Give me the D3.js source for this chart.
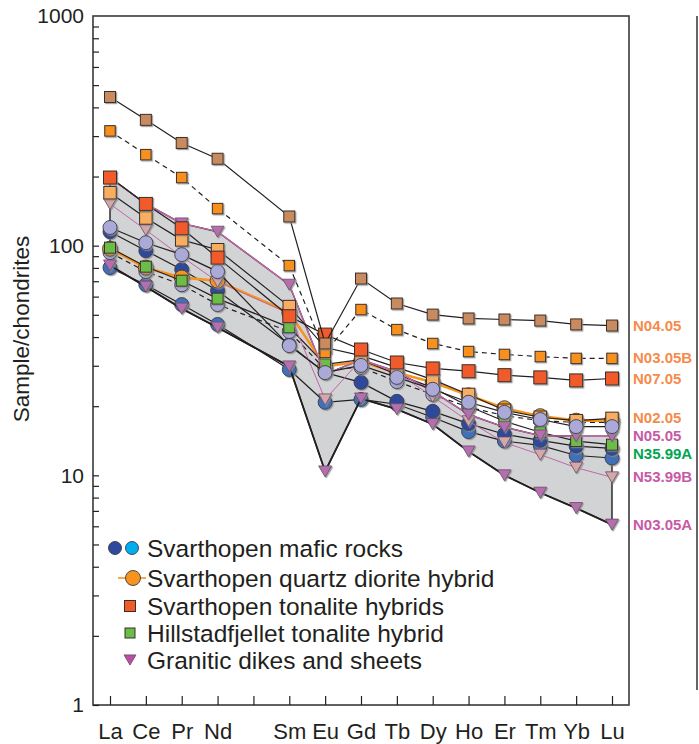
<!DOCTYPE html>
<html>
<head>
<meta charset="utf-8">
<script src="https://cdn.jsdelivr.net/npm/d3@7/dist/d3.min.js"></script>
<style>
  body { margin: 0; background: #fff; }
  text { font-family: "Liberation Sans", Arial, Helvetica, sans-serif; fill: #231f20; }
</style>
</head>
<body>
<svg class="chart-ree" width="699" height="744"></svg>
<script>
// REE columns on the x axis (Pm keeps its slot but has no analyses)
const elements = ["La", "Ce", "Pr", "Nd", "Pm", "Sm", "Eu", "Gd", "Tb", "Dy", "Ho", "Er", "Tm", "Yb", "Lu"]
const ree = ["La", "Ce", "Pr", "Nd", "Sm", "Eu", "Gd", "Tb", "Dy", "Ho", "Er", "Tm", "Yb", "Lu"]
const yTicks = [1, 10, 100, 1000]

// chondrite-normalised values, one per element in `ree`
const mafic1 = [120, 103, 91.4, 77.1, 36.7, 28.0, 30.1, 26.7, 23.7, 20.8, 18.8, 17.5, 16.3, 16.3]
const mafic2 = [115, 95.1, 78.7, 63.7, 37.1, 28.0, 25.4, 21.0, 19.0, 16.8, 15.1, 14.2, 13.4, 13.1]
const mafic3 = [93.3, 77.1, 67.6, 55.4, 42.3, 28.9, 29.5, 25.6, 22.5, 19.8, 18.2, 17.3, 17.0, 17.0]
const mafic4 = [80.2, 67.6, 55.4, 45.4, 28.9, 20.8, 21.4, 20.4, 17.9, 15.5, 14.1, 13.5, 12.2, 11.9]
const quartzDiorite = [97, 80.2, 72.6, 70.4, 51.1, 29.8, 31.3, 28.0, 25.4, 22.3, 19.6, 18.1, 17.3, 17.3]
const N35_99A = [98, 81, 70.4, 58.8, 44.1, 30.4, 31.9, 27.5, 24.1, 20.0, 17.2, 15.4, 14.1, 13.6]
const N02_05 = [170, 132, 106, 96, 54.3, 36, 33.2, 29.5, 26.1, 22.5, 19.2, 17.9, 17.3, 17.7]
const N07_05 = [198, 152, 119, 88.7, 49.3, 41, 35.3, 31.0, 29.2, 28.4, 27.3, 26.7, 25.9, 26.4]
const N03_05B = [316, 249, 198, 145, 81.9, 34.3, 52.7, 43.1, 37.5, 34.6, 33.6, 32.9, 32.3, 32.3]
const N04_05 = [444, 353, 280, 239, 134, 37.5, 71.9, 56, 50.1, 48.2, 47.7, 47.2, 45.4, 44.9]
const N05_05 = [198, 152, 125, 115, 67.6, 27.5, 31.9, 28.3, 23.2, 18.4, 16.2, 14.9, 14.8, 14.8]
const N53_99B = [152, 117, 89.6, 69.7, 50.6, 21.4, 31.9, 28.0, 22.0, 17.2, 13.9, 12.3, 10.8, 9.8]
const N03_05A = [82, 66.3, 53.2, 44.0, 29.8, 10.4, 21.6, 19.4, 16.7, 12.7, 10.0, 8.4, 7.2, 6.1]

const legendLabels = [
    "Svarthopen mafic rocks",
    "Svarthopen quartz diorite hybrid",
    "Svarthopen tonalite hybrids",
    "Hillstadfjellet tonalite hybrid",
    "Granitic dikes and sheets"
]

const cOrangeLbl = "#f58b4c", cPinkLbl = "#c759a6", cGreenLbl = "#00a551"
const magenta = "#c266a8"

// draw order matters: later series sit on top
const series = [
    {data: mafic4, shape: "circle", fill: "#3f71b8", size: 7},
    {data: mafic2, shape: "circle", fill: "#2f4a9c", size: 7},
    {data: mafic3, shape: "circle", fill: "#aaa9d8", size: 7, dash: "5,4"},
    {data: N03_05A, shape: "tri", fill: "#b470ae", size: 13, name: "N03.05A", lbl: cPinkLbl, lw: 1.8},
    {data: quartzDiorite, shape: "circle", fill: "#f7941d", size: 7.5, stroke: "#f7941d", lw: 2.6},
    {data: N35_99A, shape: "square", fill: "#6abd45", size: 11, name: "N35.99A", lbl: cGreenLbl, nudge: 9},
    {data: N53_99B, shape: "tri", fill: "#d4a7a8", size: 13, name: "N53.99B", lbl: cPinkLbl, stroke: magenta, lw: 1},
    {data: N05_05, shape: "tri", fill: "#b470ae", size: 13, name: "N05.05", lbl: cPinkLbl, stroke: magenta, lw: 1.3, nudge: 0},
    {data: N02_05, shape: "square", fill: "#f9ad60", size: 12.5, name: "N02.05", lbl: cOrangeLbl},
    {data: mafic1, shape: "circle", fill: "#aaa9d8", size: 7},
    {data: N07_05, shape: "square", fill: "#f15a29", size: 13, name: "N07.05", lbl: cOrangeLbl},
    {data: N03_05B, shape: "square", fill: "#f7901e", size: 10.5, name: "N03.05B", lbl: cOrangeLbl, dash: "5,4"},
    {data: N04_05, shape: "square", fill: "#c88a5e", size: 11, name: "N04.05", lbl: cOrangeLbl}
]

const frame = {left: 93, right: 629, top: 16, bottom: 705}

const svg = d3.select(".chart-ree")

const defs = svg.append("defs")
defs.append("filter")
    .attr("id", "shade")
    .attr("x", "-30%").attr("y", "-30%").attr("width", "170%").attr("height", "170%")
    .append("feDropShadow")
    .attr("dx", 1.2).attr("dy", 1.2).attr("stdDeviation", 0.4)
    .attr("flood-color", "#8a8a8a").attr("flood-opacity", 0.8)

const x = d3.scalePoint().domain(elements).range([110, 612])
const y = d3.scaleLog().domain([1, 1000]).range([frame.bottom, frame.top])

// granitic field: envelope of the three dike samples
const granites = [N05_05, N53_99B, N03_05A]
const field = d3.area()
    .x((d, i) => x(ree[i]))
    .y0((d, i) => y(d3.min(granites, g => g[i])))
    .y1((d, i) => y(d3.max(granites, g => g[i])))

svg.append("path")
    .datum(ree)
    .attr("d", field)
    .attr("fill", "#d1d3d4")
    .attr("stroke", "#231f20")
    .attr("stroke-width", 1.4)
    .attr("stroke-linejoin", "round")

// frame and axes
svg.append("rect")
    .attr("x", frame.left).attr("y", frame.top)
    .attr("width", frame.right - frame.left).attr("height", frame.bottom - frame.top)
    .attr("fill", "none").attr("stroke", "#3a3a3a").attr("stroke-width", 1.6)

const minor = []
for (let p = 0; p < 3; p++) for (let m = 1; m < 10; m++) minor.push(m * Math.pow(10, p))

svg.append("g")
    .attr("transform", `translate(${frame.left},0)`)
    .call(d3.axisRight(y).tickValues(minor).tickSize(6).tickFormat(""))
    .call(g => g.select(".domain").remove())
    .selectAll("line").attr("stroke", "#231f20").attr("stroke-width", 1.2)

svg.append("g")
    .attr("transform", `translate(${frame.left},0)`)
    .call(d3.axisLeft(y).tickValues(yTicks).tickSize(0).tickPadding(9).tickFormat(d3.format("d")))
    .call(g => g.select(".domain").remove())
    .selectAll("text")
    .attr("font-size", 21).attr("font-family", null).attr("fill", "#231f20")

svg.append("g")
    .attr("transform", `translate(0,${frame.bottom})`)
    .call(d3.axisTop(x).tickSize(9).tickFormat(""))
    .call(g => g.select(".domain").remove())
    .selectAll("line").attr("stroke", "#231f20").attr("stroke-width", 1.2)

svg.append("g")
    .attr("transform", `translate(0,${frame.bottom})`)
    .call(d3.axisBottom(x).tickSize(0).tickPadding(18).tickFormat(d => d === "Pm" ? "" : d))
    .call(g => g.select(".domain").remove())
    .selectAll("text")
    .attr("font-size", 22).attr("font-family", null).attr("fill", "#231f20")

svg.append("text")
    .attr("transform", "translate(29,329) rotate(-90)")
    .attr("text-anchor", "middle")
    .attr("font-size", 22.5)
    .text("Sample/chondrites")

// thin rule on the far right
svg.append("line")
    .attr("x1", 697).attr("x2", 697).attr("y1", 16).attr("y2", 690)
    .attr("stroke", "#666").attr("stroke-width", 2)

function marker(g, shape, cx, cy, s, fill) {
    if (shape === "circle") {
        g.append("circle").attr("cx", cx).attr("cy", cy).attr("r", s)
            .attr("fill", fill).attr("stroke", "#3b3b46").attr("stroke-width", 0.9)
    } else if (shape === "square") {
        g.append("rect").attr("x", cx - s / 2).attr("y", cy - s / 2).attr("width", s).attr("height", s)
            .attr("fill", fill).attr("stroke", "#3b2f2a").attr("stroke-width", 1)
    } else {
        const h = s * 0.85
        g.append("path")
            .attr("d", `M${cx - s / 2},${cy - h / 2}L${cx + s / 2},${cy - h / 2}L${cx},${cy + h / 2}Z`)
            .attr("fill", fill).attr("stroke", "#6b4a66").attr("stroke-width", 0.8)
    }
}

const line = d3.line()
    .x((d, i) => x(ree[i]))
    .y(d => y(d))

series.forEach(s => {
    const g = svg.append("g").attr("class", "sample")
    g.append("path")
        .datum(s.data)
        .attr("d", line)
        .attr("fill", "none")
        .attr("stroke", s.stroke || "#231f20")
        .attr("stroke-width", s.lw || 1.2)
        .attr("stroke-dasharray", s.dash || null)
    const m = g.append("g").attr("filter", "url(#shade)")
    s.data.forEach((d, i) => marker(m, s.shape, x(ree[i]), y(d), s.size, s.fill))
})

// sample names at the Lu end
series.filter(s => s.name).forEach(s => {
    svg.append("text")
        .attr("x", 633)
        .attr("y", y(s.data[s.data.length - 1]) + (s.nudge || 0) + 5)
        .attr("font-size", 15)
        .attr("font-weight", "bold")
        .style("fill", s.lbl)
        .text(s.name)
})

// legend
const legend = svg.append("g").attr("class", "legend")
const rowY = [548, 578, 606, 633, 660]
legendLabels.forEach((t, i) => {
    legend.append("text")
        .attr("x", 147)
        .attr("y", rowY[i] + 8.5)
        .attr("font-size", 24.5)
        .text(t)
})
marker(legend, "circle", 115, rowY[0], 6.5, "#2f4a9c")
marker(legend, "circle", 132, rowY[0], 6.5, "#00aeef")
legend.append("line")
    .attr("x1", 118).attr("x2", 146).attr("y1", rowY[1]).attr("y2", rowY[1])
    .attr("stroke", "#f7941d").attr("stroke-width", 1.6)
marker(legend, "circle", 133, rowY[1], 7.5, "#f7941d")
marker(legend, "square", 130, rowY[2], 11, "#f15a29")
marker(legend, "square", 130, rowY[3], 10, "#6abd45")
marker(legend, "tri", 130, rowY[4], 12, "#b84fa2")
</script>
</body>
</html>
